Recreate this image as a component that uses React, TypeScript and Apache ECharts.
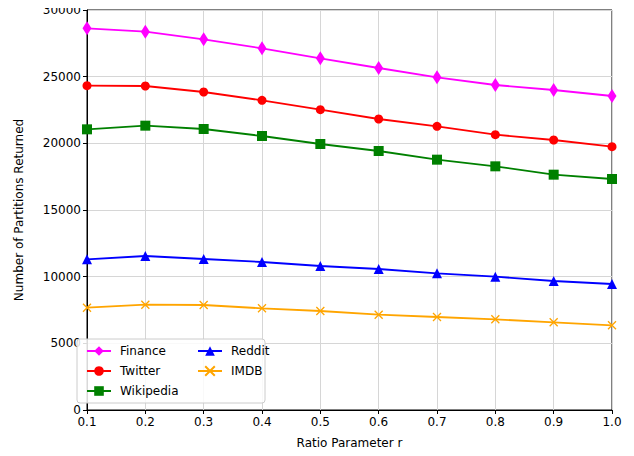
import React, { useEffect, useRef } from "react";
import * as echarts from "echarts";

const ratios = [0.1, 0.2, 0.3, 0.4, 0.5, 0.6, 0.7, 0.8, 0.9, 1.0];
const finance = [28625, 28375, 27800, 27125, 26375, 25650, 24950, 24375, 24000, 23550];
const twitter = [24325, 24300, 23850, 23225, 22525, 21825, 21275, 20650, 20250, 19750];
const wikipedia = [21050, 21325, 21075, 20550, 19950, 19425, 18775, 18275, 17650, 17325];
const reddit = [11300, 11550, 11325, 11100, 10800, 10575, 10250, 10000, 9675, 9450];
const imdb = [7675, 7900, 7875, 7625, 7425, 7150, 6975, 6800, 6575, 6350];

const FONT = "DejaVu Sans";

function pairs(vals: number[]) {
  return ratios.map((r, i) => [r, vals[i]]);
}

export default function App() {
  const ref = useRef<HTMLDivElement>(null);
  useEffect(() => {
    if (!ref.current) return;
    const chart = echarts.init(ref.current, undefined, { renderer: "svg" });
    const mk = (name: string, data: number[], color: string, symbol: string, size: any, extra: any = {}) => ({
      name,
      type: "line",
      data: pairs(data),
      symbol,
      symbolSize: size,
      showAllSymbol: true,
      lineStyle: { color, width: 1.8 },
      itemStyle: { color, ...extra },
      z: 2,
    });
    const legendCommon = {
      orient: "vertical",
      itemWidth: 24,
      itemHeight: 12,
      itemGap: 8,
      z: 5,
      textStyle: { fontFamily: FONT, fontSize: 12, color: "#000", padding: [0, 0, 0, 4] },
    };
    chart.setOption({
      animation: false,
      textStyle: { fontFamily: FONT },
      grid: { left: 87, right: 22, top: 10, bottom: 46, show: true, borderColor: "#000", borderWidth: 1, backgroundColor: "transparent" },
      xAxis: {
        type: "value",
        min: 0.1,
        max: 1.0,
        interval: 0.1,
        name: "Ratio Parameter r",
        nameLocation: "middle",
        nameGap: 27,
        nameTextStyle: { fontFamily: FONT, fontSize: 12, color: "#000" },
        axisLine: { show: true, lineStyle: { color: "#000", width: 1 } },
        axisTick: { show: true, length: 4, lineStyle: { color: "#000" } },
        axisLabel: { fontFamily: FONT, fontSize: 12, color: "#000", formatter: (v: number) => v.toFixed(1), margin: 6 },
        splitLine: { show: true, lineStyle: { color: "#d6d6d6", width: 1 } },
      },
      yAxis: {
        type: "value",
        min: 0,
        max: 30000,
        interval: 5000,
        name: "Number of Partitions Returned",
        nameLocation: "middle",
        nameGap: 62,
        nameTextStyle: { fontFamily: FONT, fontSize: 12, color: "#000" },
        axisLine: { show: true, lineStyle: { color: "#000", width: 1 } },
        axisTick: { show: true, length: 4, lineStyle: { color: "#000" } },
        axisLabel: { fontFamily: FONT, fontSize: 12, color: "#000", margin: 6, formatter: (v: number) => String(v) },
        splitLine: { show: true, lineStyle: { color: "#d6d6d6", width: 1 } },
      },
      legend: [
        { ...legendCommon, left: 81, top: 340, data: ["Finance", "Twitter", "Wikipedia"] },
        { ...legendCommon, left: 192, top: 340, data: ["Reddit", "IMDB"] },
      ],
      graphic: [
        {
          type: "rect",
          z: 3,
          shape: { x: 77, y: 339, width: 188, height: 64, r: 3 },
          style: { fill: "rgba(255,255,255,0.85)", stroke: "#cccccc", lineWidth: 1 },
        },
      ],
      series: [
        mk("Finance", finance, "#ff00ff", "diamond", [9, 14]),
        mk("Twitter", twitter, "#ff0000", "circle", 9),
        mk("Wikipedia", wikipedia, "#008000", "rect", 10),
        mk("Reddit", reddit, "#0000ff", "triangle", 10),
        mk("IMDB", imdb, "#ffa500", "path://M0,0L10,10M10,0L0,10", 8, { borderColor: "#ffa500", borderWidth: 1.3 }),
      ],
    });
    return () => chart.dispose();
  }, []);
  return <div ref={ref} style={{ width: 634, height: 456, margin: -8 }} />;
}
